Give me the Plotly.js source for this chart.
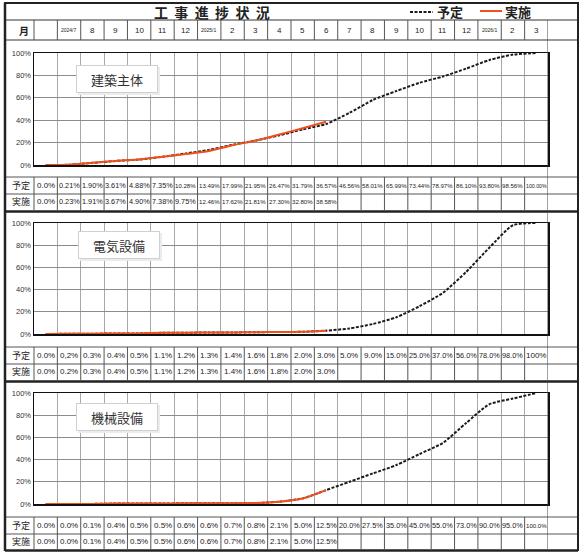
<!DOCTYPE html>
<html>
<head>
<meta charset="utf-8">
<script src="https://cdn.plot.ly/plotly-3.0.1.min.js"></script>
<style>
  html, body { margin: 0; padding: 0; background: #fff; }
  #chart { width: 587px; height: 556px; }
</style>
</head>
<body>
<div id="chart"></div>
<script>
// column headers (first column is the blank start column)
const months = ['', '2024/7', '8', '9', '10', '11', '12', '2025/1', '2', '3', '4', '5', '6',
    '7', '8', '9', '10', '11', '12', '2026/1', '2', '3'];
const yTicks = [0, 20, 40, 60, 80, 100];

// 建築主体
const planBuilding = ['0.0%', '0.21%', '1.90%', '3.61%', '4.88%', '7.35%', '10.28%', '13.49%', '17.99%',
    '21.95%', '26.47%', '31.79%', '36.57%', '46.56%', '58.01%', '65.99%', '73.44%', '78.97%', '86.10%',
    '93.80%', '98.56%', '100.00%'];
const actualBuilding = ['0.0%', '0.23%', '1.91%', '3.67%', '4.90%', '7.38%', '9.75%', '12.46%', '17.62%',
    '21.81%', '27.30%', '32.80%', '38.58%'];

// 電気設備
const planElectric = ['0.0%', '0,2%', '0.3%', '0.4%', '0.5%', '1.1%', '1.2%', '1.3%', '1.4%', '1.6%',
    '1.8%', '2.0%', '3.0%', '5.0%', '9.0%', '15.0%', '25.0%', '37.0%', '56.0%', '78.0%', '98.0%', '100%'];
const actualElectric = ['0.0%', '0.2%', '0.3%', '0.4%', '0.5%', '1.1%', '1.2%', '1.3%', '1.4%', '1.6%',
    '1.8%', '2.0%', '3.0%'];

// 機械設備
const planMechanical = ['0.0%', '0.0%', '0.1%', '0.4%', '0.5%', '0.5%', '0.6%', '0.6%', '0.7%', '0.8%',
    '2.1%', '5.0%', '12.5%', '20.0%', '27.5%', '35.0%', '45.0%', '55.0%', '73.0%', '90.0%', '95.0%', '100.0%'];
const actualMechanical = ['0.0%', '0.0%', '0.1%', '0.4%', '0.5%', '0.5%', '0.6%', '0.6%', '0.7%', '0.8%',
    '2.1%', '5.0%', '12.5%'];

const W = 587, H = 556;
const X = p => p / W;
const Y = p => 1 - p / H;
const toNum = s => parseFloat(s.replace(',', '.'));

const JP = '"Noto Sans CJK JP", sans-serif';
const NUM = '"Liberation Sans", Arial, sans-serif';
const LINE = '#555';

// panel geometry in pixels
const panels = [
    { name: '建築主体', plan: planBuilding, actual: actualBuilding,
      top: 53, bottom: 165, tTop: 177, tMid: 194, tBot: 210, labelX: 117, labelY: 79 },
    { name: '電気設備', plan: planElectric, actual: actualElectric,
      top: 223, bottom: 334, tTop: 347, tMid: 364, tBot: 380, labelX: 119, labelY: 245 },
    { name: '機械設備', plan: planMechanical, actual: actualMechanical,
      top: 393, bottom: 504, tTop: 517, tMid: 534, tBot: 549, labelX: 117, labelY: 417 }
];

const idx = months.map((m, i) => i);
const bounds = idx.slice(0, -1).map(i => i + 0.5);

const traces = [];
const layout = {
    width: W, height: H,
    margin: { l: 0, r: 0, t: 0, b: 0 },
    paper_bgcolor: '#fff',
    plot_bgcolor: '#fff',
    showlegend: false,
    shapes: [],
    annotations: []
};

function hline(y, x0, x1, width, color) {
    layout.shapes.push({ type: 'line', xref: 'paper', yref: 'paper', x0: X(x0), x1: X(x1),
        y0: Y(y), y1: Y(y), line: { color: color || LINE, width: width || 1 } });
}
function vlineData(x, y0, y1, width, color) {
    layout.shapes.push({ type: 'line', xref: 'x', yref: 'paper', x0: x, x1: x,
        y0: Y(y0), y1: Y(y1), line: { color: color || LINE, width: width || 1 } });
}
function vlinePx(x, y0, y1, width, color) {
    layout.shapes.push({ type: 'line', xref: 'paper', yref: 'paper', x0: X(x), x1: X(x),
        y0: Y(y0), y1: Y(y1), line: { color: color || LINE, width: width || 1 } });
}
// annotation, centred on its point unless told otherwise
function ann(opts) {
    layout.annotations.push(Object.assign({ xref: 'paper', yref: 'paper', showarrow: false,
        xanchor: 'center', yanchor: 'middle' }, opts));
}
function cellFont(s) {
    return Math.min(8, 19 / (0.52 * s.length));
}

panels.forEach((p, k) => {
    const n = k === 0 ? '' : String(k + 1);
    const xa = 'x' + n, ya = 'y' + n;

    traces.push({
        x: idx.slice(0, p.plan.length), y: p.plan.map(toNum),
        xaxis: xa, yaxis: ya, type: 'scatter', mode: 'lines', name: '予定',
        line: { color: '#1a1a1a', width: 2, dash: '3px,1.5px', shape: 'spline', smoothing: 0.6 },
        hoverinfo: 'skip'
    });
    traces.push({
        x: idx.slice(0, p.actual.length), y: p.actual.map(toNum),
        xaxis: xa, yaxis: ya, type: 'scatter', mode: 'lines', name: '実施',
        line: { color: '#f0501e', width: 2, shape: 'spline', smoothing: 0.6 },
        hoverinfo: 'skip'
    });

    layout['xaxis' + n] = {
        domain: [X(34), X(548)], range: [-0.5, 21.5], anchor: ya,
        tickvals: bounds, showticklabels: false, ticks: '',
        showgrid: true, gridcolor: '#a8a8a8', gridwidth: 1,
        showline: true, mirror: true, linecolor: '#111', linewidth: 1.5,
        zeroline: false, fixedrange: true
    };
    layout['yaxis' + n] = {
        domain: [Y(p.bottom), Y(p.top)], range: [0, 100], anchor: xa,
        tickmode: 'array', tickvals: yTicks, ticktext: yTicks.map(v => v + '%'), ticks: '',
        tickfont: { family: NUM, size: 7.5, color: '#333' },
        showgrid: true, gridcolor: '#8c8c8c', gridwidth: 1,
        showline: true, mirror: true, linecolor: '#111', linewidth: 1.5,
        zeroline: false, fixedrange: true
    };

    // panel label box with a soft shadow
    layout.shapes.push({ type: 'rect', xref: 'paper', yref: 'paper',
        x0: X(p.labelX - 39), x1: X(p.labelX + 43), y0: Y(p.labelY + 16), y1: Y(p.labelY - 12),
        fillcolor: '#ececec', line: { width: 0 } });
    ann({ x: X(p.labelX), y: Y(p.labelY), text: p.name, width: 78, height: 24,
        bgcolor: '#fff', bordercolor: '#d0d0d0', borderwidth: 1,
        font: { family: JP, size: 13, color: '#333' } });

    // table rows
    hline(p.tTop, 5, 578);
    hline(p.tMid, 5, 578);
    hline(p.tBot + 1.5, 5, 578, 2.5, '#222');
    vlinePx(34, p.tTop, p.tBot);
    bounds.forEach(b => vlineData(b, p.tTop, p.tBot));

    const r1 = (p.tTop + p.tMid) / 2, r2 = (p.tMid + p.tBot) / 2;
    [['予定', r1], ['実施', r2]].forEach(([t, y]) => {
        ann({ x: X(21), y: Y(y), text: t, font: { family: JP, size: 9, color: '#222' } });
    });
    p.plan.forEach((s, i) => {
        ann({ xref: xa, x: i, y: Y(r1), text: s, font: { family: NUM, size: cellFont(s), color: '#222' } });
    });
    p.actual.forEach((s, i) => {
        ann({ xref: xa, x: i, y: Y(r2), text: s, font: { family: NUM, size: cellFont(s), color: '#222' } });
    });
});

// outer frame, title row and month header
hline(3, 4, 579, 2, '#222');
hline(20, 5, 578, 1, '#333');
hline(40, 5, 578, 1, '#333');
vlinePx(5, 3, 551, 2.5, '#222');
vlinePx(578, 3, 551, 2, '#222');
vlineData(21.5, 20, 549, 1, '#444');
vlinePx(34, 20, 40);
bounds.forEach(b => vlineData(b, 20, 40));

ann({ x: X(31), y: Y(30), xanchor: 'right', text: '<b>月</b>', font: { family: JP, size: 10, color: '#222' } });
months.forEach((m, i) => {
    if (!m) return;
    ann({ xref: 'x', x: i, y: Y(30), text: m, font: { family: NUM, size: m.length > 3 ? 5 : 8, color: '#222' } });
});

ann({ x: X(212), y: Y(12),
    text: '<b>工\u00a0\u00a0事\u00a0\u00a0進\u00a0\u00a0捗\u00a0\u00a0状\u00a0\u00a0況</b>',
    font: { family: JP, size: 14, color: '#222' } });

// legend
layout.shapes.push({ type: 'line', xref: 'paper', yref: 'paper', x0: X(410), x1: X(433),
    y0: Y(12), y1: Y(12), line: { color: '#1a1a1a', width: 2, dash: '3px,1.5px' } });
layout.shapes.push({ type: 'line', xref: 'paper', yref: 'paper', x0: X(480), x1: X(502),
    y0: Y(11), y1: Y(11), line: { color: '#f0501e', width: 2 } });
ann({ x: X(435), y: Y(12), xanchor: 'left', text: '<b>予定</b>', font: { family: JP, size: 13, color: '#222' } });
ann({ x: X(503), y: Y(12), xanchor: 'left', text: '<b>実施</b>', font: { family: JP, size: 13, color: '#222' } });

Plotly.newPlot('chart', traces, layout, { staticPlot: true, displayModeBar: false });
</script>
</body>
</html>
